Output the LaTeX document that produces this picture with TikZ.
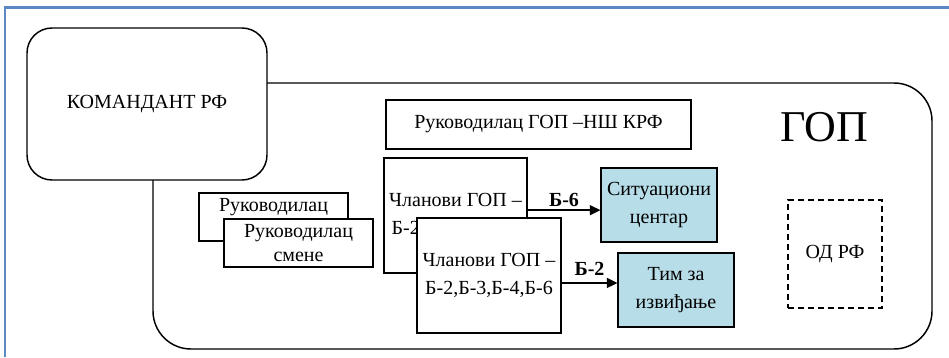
\documentclass[tikz,border=0pt]{standalone}
\usepackage{fontspec}
\setmainfont{LiberationSerif}[Extension=.ttf,UprightFont=*-Regular,BoldFont=*-Bold,ItalicFont=*-Italic,BoldItalicFont=*-BoldItalic]
\usetikzlibrary{arrows.meta}
\definecolor{framecol}{RGB}{91,135,196}
\definecolor{aquabox}{RGB}{183,221,232}
\tikzset{
  box/.style={draw,thick,fill=white,rectangle,inner sep=0pt,align=center,font=\fontsize{15}{21.5}\selectfont},
  bluebox/.style={box,fill=aquabox,font=\fontsize{15}{21}\selectfont},
  roundbox/.style={draw,line width=1.1pt,fill=white,rounded corners=#1,inner sep=0pt,font=\fontsize{15}{18}\selectfont},
  lbl/.style={font=\bfseries\fontsize{15}{18}\selectfont,inner sep=2pt},
  arr/.style={-{Triangle[length=8pt,width=7.5pt]},line width=1.2pt}
}

\begin{document}
\begin{tikzpicture}[x=0.75pt, y=-0.75pt]
  \useasboundingbox (0,0) rectangle (949,357);
  \draw[framecol,line width=1.6pt] (5,357) -- (5,7.5) -- (949,7.5);

  \node [roundbox=28.5pt,minimum width=584.25pt,minimum height=199.5pt] (gop) at (542.5,216) {};
  \node [roundbox=18.75pt,minimum width=180pt,minimum height=114pt] (kom) at (147,104) {КОМАНДАНТ РФ};
  \node [font=\fontsize{33}{36}\selectfont,inner sep=0pt] (goplabel) at (824,127) {ГОП};

  \node [box,minimum width=228.75pt,minimum height=36.75pt] (rukgop) at (538.5,124.5) {Руководилац ГОП –НШ КРФ};

  \node [box,minimum width=107.25pt,minimum height=86.25pt] (clanb) at (455.5,215.5) {Чланови ГОП –\\Б-2,Б-3,Б-4,Б-6};
  \node [box,minimum width=108pt,minimum height=86.25pt] (clan) at (489,275.5) {Чланови ГОП –\\Б-2,Б-3,Б-4,Б-6};

  \node [box,font=\fontsize{15}{17.5}\selectfont,minimum width=111.75pt,minimum height=36pt] (rukb) at (273.5,217) {Руководилац\\смене};
  \node [box,font=\fontsize{15}{17.5}\selectfont,minimum width=111.75pt,minimum height=36pt] (ruk) at (298.5,243) {Руководилац\\смене};

  \node [bluebox,minimum width=87pt,minimum height=55.5pt] (sit) at (659,205) {Ситуациони\\центар};
  \node [bluebox,minimum width=87pt,minimum height=55.5pt] (tim) at (676,290) {Тим за\\извиђање};

  \node [box,dashed,dash pattern=on 4.5pt off 3pt,minimum width=70.5pt,minimum height=81pt] (od) at (835,254) {ОД РФ};

  \draw [arr] ([yshift=4pt]clanb.east) -- ([yshift=4pt]clanb.east -| sit.west)
    node [lbl,midway,above] {Б-6};
  \draw [arr] ([yshift=-5.6pt]clan.east) -- ([yshift=-5.6pt]clan.east -| tim.west)
    node [lbl,midway,above=3pt] {Б-2};
\end{tikzpicture}
\end{document}
